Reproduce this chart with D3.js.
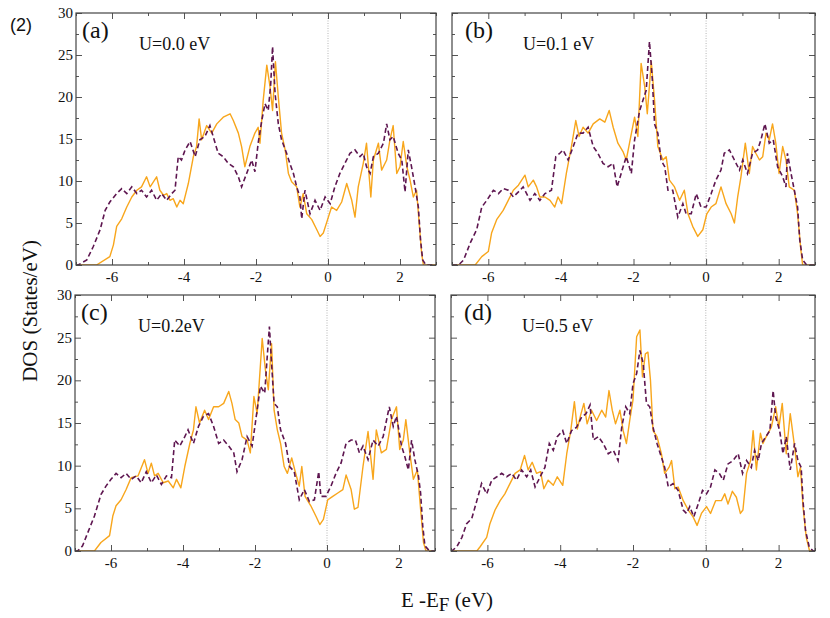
<!DOCTYPE html>
<html>
<head>
<meta charset="utf-8">
<script src="https://cdn.jsdelivr.net/npm/d3@7"></script>
<style>
  body { margin: 0; background: #fff; }
  svg text { font-family: "Liberation Serif", "DejaVu Serif", serif; fill: #111; }
</style>
</head>
<body>
<svg id="chart" width="830" height="618"></svg>
<script>
"use strict";

// panel captions
var panelTags = ["(a)", "(b)", "(c)", "(d)"]
var uLabels = ["U=0.0 eV", "U=0.1 eV", "U=0.2eV", "U=0.5 eV"]
var xTicks = [-6, -4, -2, 0, 2]
var yTicks = [0, 5, 10, 15, 20, 25, 30]

// [E - EF (eV), DOS (States/eV)]
// solid orange curve
var solidA = [[-7,0],[-6.43,0],[-6.06,1.0],[-5.96,2.4],[-5.87,4.6],[-5.73,5.5],[-5.59,6.9],[-5.45,8.1],[-5.31,8.9],[-5.18,9.3],[-5.04,10.5],[-4.94,9.3],[-4.85,9.9],[-4.76,10.5],[-4.67,8.9],[-4.57,8.3],[-4.48,8.5],[-4.39,7.7],[-4.30,7.9],[-4.20,6.9],[-4.11,7.7],[-4.02,7.3],[-3.88,9.7],[-3.74,12.9],[-3.65,14.1],[-3.58,17.4],[-3.51,14.9],[-3.37,16.6],[-3.23,15.7],[-3.09,16.8],[-2.91,17.6],[-2.72,18.0],[-2.63,17.2],[-2.49,15.7],[-2.40,14.1],[-2.31,11.7],[-2.17,14.1],[-2.03,15.7],[-1.94,16.4],[-1.89,14.5],[-1.80,19.6],[-1.70,23.8],[-1.61,21.2],[-1.54,18.4],[-1.46,24.2],[-1.38,20.0],[-1.29,15.7],[-1.19,13.7],[-1.10,10.9],[-1.01,9.9],[-0.87,9.3],[-0.78,6.9],[-0.69,8.5],[-0.59,6.1],[-0.45,5.4],[-0.31,4.2],[-0.22,3.4],[-0.13,3.8],[0.01,5.7],[0.10,6.9],[0.24,6.5],[0.38,7.5],[0.52,9.7],[0.66,7.7],[0.75,5.7],[0.84,9.3],[0.98,12.1],[1.07,14.5],[1.19,8.1],[1.26,12.5],[1.40,14.5],[1.49,11.3],[1.63,12.5],[1.72,14.9],[1.81,16.6],[1.91,10.9],[2.0,11.7],[2.09,14.7],[2.19,11.7],[2.28,10.1],[2.37,8.1],[2.46,8.9],[2.54,4.6],[2.60,1.4],[2.65,0],[3,0]]
var solidB = [[-7,0],[-6.36,0],[-6.18,1.0],[-6.0,1.6],[-5.91,3.8],[-5.77,5.4],[-5.59,6.5],[-5.45,7.7],[-5.31,8.9],[-5.17,9.5],[-4.99,10.7],[-4.90,9.3],[-4.76,10.1],[-4.67,9.3],[-4.58,8.1],[-4.44,8.1],[-4.30,7.7],[-4.17,6.9],[-4.08,8.1],[-3.98,7.3],[-3.85,10.9],[-3.71,14.1],[-3.59,17.2],[-3.50,15.3],[-3.39,16.4],[-3.25,15.7],[-3.11,16.8],[-2.93,17.4],[-2.79,17.0],[-2.67,18.4],[-2.56,16.4],[-2.43,14.5],[-2.29,13.5],[-2.20,12.5],[-2.11,14.5],[-1.97,17.6],[-1.88,15.3],[-1.79,24.0],[-1.69,21.2],[-1.62,18.0],[-1.51,24.2],[-1.42,19.6],[-1.33,14.1],[-1.19,12.5],[-1.10,12.9],[-1.01,10.1],[-0.87,9.3],[-0.73,7.7],[-0.60,8.9],[-0.50,6.1],[-0.37,4.6],[-0.23,3.4],[-0.09,4.2],[0.02,6.1],[0.14,6.9],[0.27,7.3],[0.41,9.3],[0.55,7.3],[0.69,6.1],[0.78,5.0],[0.87,8.1],[0.96,10.5],[1.08,14.5],[1.19,10.9],[1.28,14.1],[1.37,13.3],[1.47,12.5],[1.56,12.9],[1.65,15.7],[1.74,14.9],[1.83,16.8],[1.92,14.5],[2.01,10.9],[2.11,14.1],[2.20,12.5],[2.29,9.3],[2.43,8.9],[2.52,6.1],[2.61,1.8],[2.66,0],[3,0]]
var solidC = [[-7,0],[-6.46,0],[-6.28,1.0],[-6.04,1.8],[-5.95,4.1],[-5.86,5.3],[-5.72,6.0],[-5.58,7.2],[-5.44,8.6],[-5.25,8.8],[-5.07,10.7],[-4.97,9.1],[-4.88,10.3],[-4.79,8.8],[-4.69,9.1],[-4.55,8.0],[-4.41,8.2],[-4.27,7.4],[-4.18,8.4],[-4.06,7.4],[-3.95,9.9],[-3.81,12.6],[-3.71,14.2],[-3.64,16.9],[-3.54,15.0],[-3.40,16.5],[-3.29,15.4],[-3.15,16.9],[-3.01,16.9],[-2.87,17.3],[-2.73,18.7],[-2.64,17.3],[-2.55,15.4],[-2.45,15.0],[-2.36,13.4],[-2.22,13.0],[-2.13,11.5],[-2.03,18.1],[-1.94,16.1],[-1.80,24.9],[-1.71,21.2],[-1.63,18.9],[-1.54,24.3],[-1.47,16.5],[-1.38,14.2],[-1.29,12.6],[-1.19,9.9],[-1.10,9.1],[-0.98,10.9],[-0.87,9.1],[-0.77,7.6],[-0.70,9.9],[-0.61,6.4],[-0.45,5.3],[-0.31,4.1],[-0.20,3.1],[-0.10,3.7],[0.02,6.0],[0.16,6.4],[0.30,6.8],[0.44,7.2],[0.53,8.9],[0.67,7.2],[0.76,4.9],[0.86,5.1],[1.0,9.9],[1.14,14.0],[1.28,8.4],[1.37,14.2],[1.51,11.5],[1.65,11.9],[1.79,15.4],[1.93,16.9],[2.02,11.9],[2.12,13.0],[2.19,15.4],[2.30,11.5],[2.40,8.4],[2.51,9.5],[2.60,4.9],[2.68,1.0],[2.75,0],[3,0]]
var solidD = [[-7,0],[-6.29,0],[-6.20,0.5],[-6.02,1.6],[-5.93,3.2],[-5.79,4.8],[-5.65,5.9],[-5.52,6.7],[-5.38,7.9],[-5.24,9.1],[-5.10,9.5],[-4.98,11.2],[-4.88,9.5],[-4.77,10.4],[-4.65,9.1],[-4.54,9.3],[-4.45,7.3],[-4.33,8.3],[-4.19,7.7],[-4.08,8.7],[-3.93,7.7],[-3.82,11.4],[-3.71,14.1],[-3.61,17.5],[-3.53,14.3],[-3.44,15.9],[-3.35,17.3],[-3.26,14.9],[-3.14,16.5],[-3.0,15.3],[-2.86,16.5],[-2.75,15.7],[-2.66,18.8],[-2.57,16.5],[-2.48,14.9],[-2.36,16.5],[-2.27,14.1],[-2.18,12.6],[-2.09,15.3],[-2.0,17.7],[-1.90,25.1],[-1.81,25.9],[-1.74,20.4],[-1.66,23.1],[-1.59,23.3],[-1.52,20.0],[-1.45,14.1],[-1.34,13.4],[-1.22,11.4],[-1.13,9.1],[-1.01,9.8],[-0.94,10.6],[-0.85,7.3],[-0.76,7.5],[-0.62,5.9],[-0.48,4.8],[-0.35,4.0],[-0.24,3.0],[-0.12,4.4],[0.02,5.2],[0.13,4.4],[0.27,5.9],[0.43,5.9],[0.52,6.7],[0.61,5.5],[0.73,7.0],[0.84,6.3],[0.95,4.4],[1.02,4.8],[1.12,9.1],[1.23,10.6],[1.30,14.1],[1.39,9.5],[1.50,13.8],[1.57,12.6],[1.66,13.4],[1.80,14.5],[1.92,16.9],[2.01,14.5],[2.10,17.3],[2.21,11.4],[2.32,16.1],[2.44,12.2],[2.53,8.7],[2.60,9.8],[2.67,5.2],[2.76,1.6],[2.85,0],[3,0]]

// dashed purple curve
var dashA = [[-7,0],[-6.94,0],[-6.70,0.6],[-6.52,2.2],[-6.33,4.2],[-6.19,6.5],[-6.06,7.5],[-5.87,8.5],[-5.73,9.1],[-5.59,8.5],[-5.45,9.3],[-5.31,8.5],[-5.18,8.9],[-5.04,8.1],[-4.90,8.9],[-4.76,7.7],[-4.62,8.5],[-4.48,7.7],[-4.34,8.5],[-4.25,8.9],[-4.16,12.9],[-4.07,12.5],[-3.97,13.7],[-3.83,14.7],[-3.69,12.9],[-3.56,14.9],[-3.42,15.3],[-3.28,16.6],[-3.19,15.3],[-3.05,13.3],[-2.91,12.9],[-2.77,12.1],[-2.63,11.7],[-2.49,10.5],[-2.40,9.3],[-2.26,10.9],[-2.12,12.5],[-2.03,11.1],[-1.94,14.5],[-1.84,17.2],[-1.75,19.2],[-1.66,18.4],[-1.59,21.6],[-1.54,26.0],[-1.47,20.4],[-1.38,16.8],[-1.29,14.9],[-1.15,13.3],[-1.06,12.1],[-0.96,10.9],[-0.87,9.3],[-0.78,8.1],[-0.73,5.5],[-0.64,8.9],[-0.50,6.1],[-0.36,7.7],[-0.22,6.5],[-0.08,8.1],[0.06,7.3],[0.19,9.3],[0.33,10.9],[0.47,12.1],[0.61,13.3],[0.75,13.7],[0.89,12.9],[0.98,13.3],[1.07,11.7],[1.17,10.9],[1.26,12.9],[1.40,13.3],[1.54,14.5],[1.63,16.8],[1.72,14.9],[1.81,15.3],[1.95,13.3],[2.05,12.5],[2.14,8.7],[2.23,13.7],[2.32,11.7],[2.42,9.3],[2.51,6.9],[2.57,3.0],[2.63,0.6],[2.72,0],[3,0]]
var dashB = [[-7,0],[-6.82,0],[-6.68,0.6],[-6.50,2.6],[-6.32,4.2],[-6.18,6.9],[-6.04,7.7],[-5.86,8.9],[-5.72,8.5],[-5.59,9.1],[-5.45,8.9],[-5.31,8.1],[-5.17,8.7],[-5.04,9.3],[-4.85,7.7],[-4.72,8.5],[-4.58,7.7],[-4.44,8.5],[-4.26,8.9],[-4.14,12.9],[-4.03,13.3],[-3.94,13.7],[-3.80,12.5],[-3.66,14.1],[-3.53,15.7],[-3.39,15.7],[-3.25,16.4],[-3.11,14.1],[-2.98,13.3],[-2.84,12.1],[-2.70,11.7],[-2.56,12.1],[-2.45,9.3],[-2.34,10.9],[-2.20,12.9],[-2.06,10.9],[-1.97,14.9],[-1.83,18.4],[-1.74,19.6],[-1.65,20.8],[-1.56,26.6],[-1.48,22.0],[-1.42,16.8],[-1.33,15.7],[-1.24,12.5],[-1.14,11.7],[-1.05,8.9],[-0.92,8.9],[-0.78,5.7],[-0.64,7.3],[-0.55,6.1],[-0.41,6.1],[-0.27,8.5],[-0.14,6.9],[0,6.9],[0.14,8.5],[0.27,10.1],[0.41,11.3],[0.50,13.3],[0.64,13.7],[0.78,12.5],[0.92,11.3],[1.01,12.5],[1.14,10.9],[1.28,13.3],[1.42,13.7],[1.51,14.9],[1.62,16.8],[1.74,14.5],[1.85,14.9],[1.97,11.7],[2.11,10.5],[2.20,9.3],[2.24,13.3],[2.34,10.9],[2.43,8.9],[2.52,6.9],[2.58,3.0],[2.66,0.6],[2.77,0],[3,0]]
var dashC = [[-7,0],[-6.93,0],[-6.79,0.6],[-6.65,2.1],[-6.46,4.1],[-6.28,6.6],[-6.14,7.6],[-6.0,8.4],[-5.86,9.1],[-5.72,8.6],[-5.58,9.1],[-5.44,8.4],[-5.30,8.8],[-5.16,8.0],[-5.02,9.3],[-4.88,8.0],[-4.74,8.9],[-4.60,7.8],[-4.46,8.8],[-4.32,8.6],[-4.23,13.0],[-4.09,12.3],[-3.95,13.4],[-3.86,14.2],[-3.71,12.6],[-3.57,14.6],[-3.43,15.8],[-3.29,16.1],[-3.15,14.6],[-3.01,12.6],[-2.87,13.0],[-2.73,12.3],[-2.59,11.5],[-2.50,9.3],[-2.36,10.7],[-2.22,13.4],[-2.08,12.3],[-1.99,15.0],[-1.85,19.3],[-1.73,18.5],[-1.66,22.8],[-1.60,26.3],[-1.54,22.0],[-1.47,17.3],[-1.38,16.9],[-1.29,14.2],[-1.15,12.6],[-1.04,9.9],[-0.91,9.3],[-0.77,6.0],[-0.63,7.2],[-0.49,5.8],[-0.35,6.0],[-0.23,9.3],[-0.17,6.4],[-0.03,6.4],[0.11,7.6],[0.25,9.1],[0.39,10.3],[0.53,12.6],[0.67,13.0],[0.79,13.0],[0.90,11.5],[1.0,12.3],[1.14,10.7],[1.28,13.0],[1.42,12.3],[1.56,13.4],[1.73,16.9],[1.84,14.6],[1.93,15.8],[2.07,12.3],[2.16,11.1],[2.26,9.5],[2.35,13.0],[2.44,10.7],[2.54,8.8],[2.60,6.8],[2.66,2.9],[2.72,0.6],[2.85,0],[3,0]]
var dashD = [[-7,0],[-6.98,0],[-6.84,0.5],[-6.70,1.6],[-6.57,3.2],[-6.43,3.8],[-6.29,5.9],[-6.16,7.9],[-6.02,6.7],[-5.88,8.3],[-5.74,8.7],[-5.61,9.1],[-5.47,8.7],[-5.33,9.1],[-5.20,8.3],[-5.06,9.5],[-4.92,8.7],[-4.81,9.5],[-4.69,7.5],[-4.55,8.7],[-4.42,9.8],[-4.30,12.6],[-4.19,11.8],[-4.08,13.4],[-3.93,14.1],[-3.82,12.6],[-3.69,14.1],[-3.55,14.5],[-3.41,15.7],[-3.29,16.1],[-3.18,17.1],[-3.09,13.0],[-2.95,13.4],[-2.82,12.6],[-2.68,11.4],[-2.54,11.8],[-2.41,10.6],[-2.31,14.5],[-2.20,16.9],[-2.09,16.1],[-2.0,19.6],[-1.90,20.8],[-1.81,23.5],[-1.72,22.0],[-1.63,17.3],[-1.54,16.9],[-1.45,14.5],[-1.34,12.6],[-1.22,11.0],[-1.13,9.8],[-1.03,7.5],[-0.90,7.9],[-0.76,7.1],[-0.62,4.8],[-0.53,4.4],[-0.44,5.2],[-0.33,4.0],[-0.21,5.5],[-0.09,7.1],[0.02,6.7],[0.13,7.5],[0.25,9.5],[0.37,9.1],[0.48,8.3],[0.61,10.2],[0.75,10.6],[0.89,11.4],[1.01,9.1],[1.12,10.6],[1.25,9.8],[1.34,11.8],[1.44,10.6],[1.53,12.6],[1.65,13.4],[1.76,14.1],[1.85,18.8],[1.92,15.7],[2.03,14.1],[2.12,11.4],[2.21,13.4],[2.32,9.5],[2.44,12.6],[2.53,10.6],[2.62,9.8],[2.67,5.9],[2.74,2.4],[2.84,0.5],[2.95,0],[3,0]]

var solidSets = [solidA, solidB, solidC, solidD]
var dashSets = [dashA, dashB, dashC, dashD]

var serif = "'Liberation Serif', 'DejaVu Serif', serif"
var svg = d3.select("#chart")

// panel boxes in the page
var boxes = [
  { x: 76, y: 13, w: 360, h: 252 },
  { x: 452, y: 13, w: 363, h: 252 },
  { x: 75, y: 295, w: 360, h: 256 },
  { x: 451, y: 295, w: 364, h: 256 }
]

boxes.forEach(function(b, i) {
  var g = svg.append("g").attr("transform", "translate(" + b.x + "," + b.y + ")")
  var x = d3.scaleLinear().domain([-7, 3]).range([0, b.w])
  var y = d3.scaleLinear().domain([0, 30]).range([b.h, 0])

  g.append("clipPath").attr("id", "clip" + i)
    .append("rect").attr("width", b.w).attr("height", b.h)

  // Fermi level marker
  g.append("line")
    .attr("x1", x(0)).attr("x2", x(0))
    .attr("y1", 0).attr("y2", b.h)
    .style("stroke", "#b5b5b5")
    .style("stroke-width", 1)
    .style("stroke-dasharray", "1,1.5")

  var line = d3.line()
    .x(function(d) { return x(d[0]) })
    .y(function(d) { return y(d[1]) })

  g.append("path")
    .datum(solidSets[i])
    .attr("clip-path", "url(#clip" + i + ")")
    .attr("d", line)
    .style("fill", "none")
    .style("stroke", "#f8a61c")
    .style("stroke-width", 1.4)
    .style("stroke-linejoin", "round")

  g.append("path")
    .datum(dashSets[i])
    .attr("clip-path", "url(#clip" + i + ")")
    .attr("d", line)
    .style("fill", "none")
    .style("stroke", "#5e1650")
    .style("stroke-width", 1.6)
    .style("stroke-dasharray", "5,3")

  // inward ticks on all four sides
  var tickCol = "#555"
  var xMinor = d3.range(-7, 4, 1).filter(function(v) { return xTicks.indexOf(v) < 0 })
  var yMinor = d3.range(2.5, 30, 5)

  function ticks(sel, axis, len) {
    sel.call(axis.tickSize(len).tickFormat(""))
    sel.select(".domain").remove()
    sel.selectAll(".tick line").style("stroke", tickCol)
  }
  ticks(g.append("g").attr("transform", "translate(0," + b.h + ")"), d3.axisTop(x).tickValues(xTicks), 6)
  ticks(g.append("g").attr("transform", "translate(0," + b.h + ")"), d3.axisTop(x).tickValues(xMinor), 3)
  ticks(g.append("g"), d3.axisBottom(x).tickValues(xTicks), 6)
  ticks(g.append("g"), d3.axisBottom(x).tickValues(xMinor), 3)
  ticks(g.append("g"), d3.axisRight(y).tickValues(yTicks), 6)
  ticks(g.append("g"), d3.axisRight(y).tickValues(yMinor), 3)
  ticks(g.append("g").attr("transform", "translate(" + b.w + ",0)"), d3.axisLeft(y).tickValues(yTicks), 6)
  ticks(g.append("g").attr("transform", "translate(" + b.w + ",0)"), d3.axisLeft(y).tickValues(yMinor), 3)

  g.append("rect")
    .attr("width", b.w).attr("height", b.h)
    .style("fill", "none")
    .style("stroke", "#444")
    .style("stroke-width", 1.2)

  // tick labels
  g.selectAll(".xl").data(xTicks).enter().append("text")
    .attr("x", function(d) { return x(d) })
    .attr("y", b.h + 17)
    .attr("text-anchor", "middle")
    .style("font-family", serif)
    .style("font-size", "15px")
    .text(function(d) { return d })

  if (i % 2 === 0) {
    g.selectAll(".yl").data(yTicks).enter().append("text")
      .attr("x", -3)
      .attr("y", function(d) { return y(d) + 5 })
      .attr("text-anchor", "end")
      .style("font-family", serif)
      .style("font-size", "15px")
      .text(function(d) { return d })
  }

  g.append("text")
    .attr("x", i % 2 === 0 ? 6 : 13)
    .attr("y", 25)
    .style("font-family", serif)
    .style("font-size", "24px")
    .text(panelTags[i])

  g.append("text")
    .attr("x", i % 2 === 0 ? 63 : 71)
    .attr("y", 37)
    .style("font-family", serif)
    .style("font-size", "18px")
    .text(uLabels[i])
})

svg.append("text")
  .attr("x", 10).attr("y", 31)
  .style("font-family", "'Liberation Sans', Arial, sans-serif")
  .style("font-size", "18px")
  .text("(2)")

svg.append("text")
  .attr("transform", "translate(37,311) rotate(-90)")
  .attr("text-anchor", "middle")
  .style("font-family", serif)
  .style("font-size", "21px")
  .text("DOS (States/eV)")

var xl = svg.append("text")
  .attr("x", 447).attr("y", 607)
  .attr("text-anchor", "middle")
  .style("font-family", serif)
  .style("font-size", "21px")
xl.append("tspan").text("E -E")
xl.append("tspan").attr("dy", 4).style("font-size", "19px").text("F")
xl.append("tspan").attr("dy", -4).text(" (eV)")
</script>
</body>
</html>
